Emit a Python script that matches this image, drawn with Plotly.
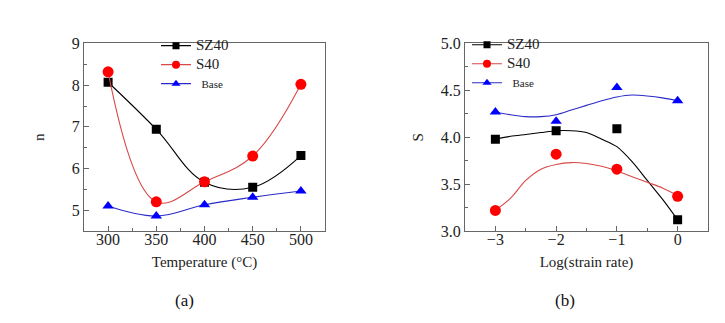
import plotly.graph_objects as go

# ---- Panel (a) data ----
temperature = [300, 350, 400, 450, 500]
n_sz40 = [8.07, 6.94, 5.67, 5.55, 6.31]
n_s40 = [8.32, 5.20, 5.68, 6.30, 8.02]
n_base = [5.10, 4.86, 5.13, 5.31, 5.46]

# ---- Panel (b) data ----
log_rate = [-3, -2, -1, 0]
s_sz40 = [3.98, 4.07, 4.09, 3.12]
s_s40 = [3.22, 3.82, 3.66, 3.37]
s_base = [4.27, 4.17, 4.53, 4.39]

# fitted curves in panel (b)
fit_x = [-3, -2.75, -2.5, -2.25, -2, -1.75, -1.5, -1.25, -1, -0.75, -0.5, -0.25, 0]
fit_sz40 = [3.98, 4.01, 4.03, 4.05, 4.07, 4.07, 4.05, 3.98, 3.90, 3.74, 3.54, 3.34, 3.12]
fit_s40 = [3.22, 3.35, 3.54, 3.66, 3.71, 3.73, 3.72, 3.69, 3.64, 3.58, 3.52, 3.46, 3.38]
fit_base = [4.27, 4.24, 4.22, 4.22, 4.24, 4.29, 4.34, 4.39, 4.43, 4.45, 4.44, 4.42, 4.39]

series_names = ["SZ40", "S40", "Base"]
line_colors = ["#000000", "#d84848", "#2a2ac8"]
marker_colors = ["#000000", "#ff0000", "#0000ff"]
symbols = ["square", "circle", "triangle-up"]
marker_sizes = [9, 11, 10]
legend_marker_sizes = [7, 8, 8]

FONT = "Liberation Serif"
legend_names = ["<span style='font-size:15px'>SZ40</span>",
                "<span style='font-size:15px'>S40</span>",
                "&nbsp;&nbsp;<span style='font-size:11px'>Base</span>"]

fig = go.Figure()

# panel (a): points joined by smooth curves
for name, yv, lc, mc, sym, ms in zip(series_names, [n_sz40, n_s40, n_base],
                                     line_colors, marker_colors, symbols, marker_sizes):
    fig.add_trace(go.Scatter(
        x=temperature, y=yv, name=name, mode="lines+markers", showlegend=False,
        line=dict(color=lc, width=1.1, shape="spline", smoothing=1.1),
        marker=dict(color=mc, symbol=sym, size=ms, line=dict(width=0)),
        xaxis="x", yaxis="y"))

# panel (b): fitted curves + points
for name, yv, fv, lc, mc, sym, ms in zip(series_names, [s_sz40, s_s40, s_base],
                                         [fit_sz40, fit_s40, fit_base],
                                         line_colors, marker_colors, symbols, marker_sizes):
    fig.add_trace(go.Scatter(
        x=fit_x, y=fv, mode="lines", showlegend=False,
        line=dict(color=lc, width=1.1, shape="spline", smoothing=0.8),
        xaxis="x2", yaxis="y2", hoverinfo="skip"))
    fig.add_trace(go.Scatter(
        x=log_rate, y=yv, mode="markers", showlegend=False, name=name,
        marker=dict(color=mc, symbol=sym, size=ms, line=dict(width=0)),
        xaxis="x2", yaxis="y2"))

# legend entries (one legend per panel)
for leg, xa, ya in [("legend", "x", "y"), ("legend2", "x2", "y2")]:
    for lab, lc, mc, sym, ms in zip(legend_names, line_colors, marker_colors, symbols, legend_marker_sizes):
        fig.add_trace(go.Scatter(
            x=[None], y=[None], name=lab, mode="lines+markers",
            line=dict(color=lc, width=1.1),
            marker=dict(color=mc, symbol=sym, size=ms, line=dict(width=0)),
            xaxis=xa, yaxis=ya, legend=leg))

axis_common = dict(
    showgrid=False, zeroline=False, showline=True, mirror=True,
    linecolor="#666666", linewidth=1, ticks="inside", ticklen=5,
    tickcolor="#666666", tickfont=dict(family=FONT, size=16, color="#222222"),
)
y0, y1 = 1 - 227 / 323, 1 - 29 / 323

legend_common = dict(xanchor="left", yanchor="top", bgcolor="rgba(0,0,0,0)",
                     font=dict(family=FONT, size=11, color="#222222"),
                     tracegroupgap=0, itemwidth=30)

fig.update_layout(
    width=725, height=323,
    margin=dict(l=0, r=0, t=0, b=0),
    paper_bgcolor="white", plot_bgcolor="white",
    font=dict(family=FONT, size=14, color="#222222"),
    xaxis=dict(axis_common, domain=[76 / 725, 317 / 725], range=[275, 525],
               tickvals=temperature, ticklabelstandoff=-6,
               minor=dict(ticks="inside", ticklen=3, dtick=25, tickcolor="#666666"),
               title=dict(text="Temperature (°C)", standoff=9, font=dict(family=FONT, size=15))),
    yaxis=dict(axis_common, domain=[y0, y1], range=[4.5, 9], dtick=1,
               minor=dict(ticks="inside", ticklen=3, dtick=0.5, tickcolor="#666666"),
               title=dict(text="n", standoff=23, font=dict(family=FONT, size=15))),
    xaxis2=dict(axis_common, domain=[457 / 725, 700 / 725], range=[-3.5, 0.5],
                tickvals=log_rate, ticklabelstandoff=-6,
                minor=dict(ticks="inside", ticklen=3, dtick=0.5, tickcolor="#666666"),
                anchor="y2",
                title=dict(text="Log(strain rate)", standoff=9, font=dict(family=FONT, size=15))),
    yaxis2=dict(axis_common, domain=[y0, y1], range=[3.0, 5.0], dtick=0.5, tickformat=".1f",
                minor=dict(ticks="inside", ticklen=3, dtick=0.25, tickcolor="#666666"),
                anchor="x2",
                title=dict(text="S", standoff=13, font=dict(family=FONT, size=15))),
    legend=dict(legend_common, x=148 / 725, y=1 - 16 / 323),
    legend2=dict(legend_common, x=459 / 725, y=1 - 15 / 323),
    annotations=[
        dict(text="(a)", x=176 / 725, y=1 - 300 / 323, xref="paper", yref="paper",
             xanchor="center", yanchor="middle",
             showarrow=False, font=dict(family=FONT, size=17, color="#111111")),
        dict(text="(b)", x=557 / 725, y=1 - 300 / 323, xref="paper", yref="paper",
             xanchor="center", yanchor="middle",
             showarrow=False, font=dict(family=FONT, size=17, color="#111111")),
    ],
)

fig.write_html("out.html")
